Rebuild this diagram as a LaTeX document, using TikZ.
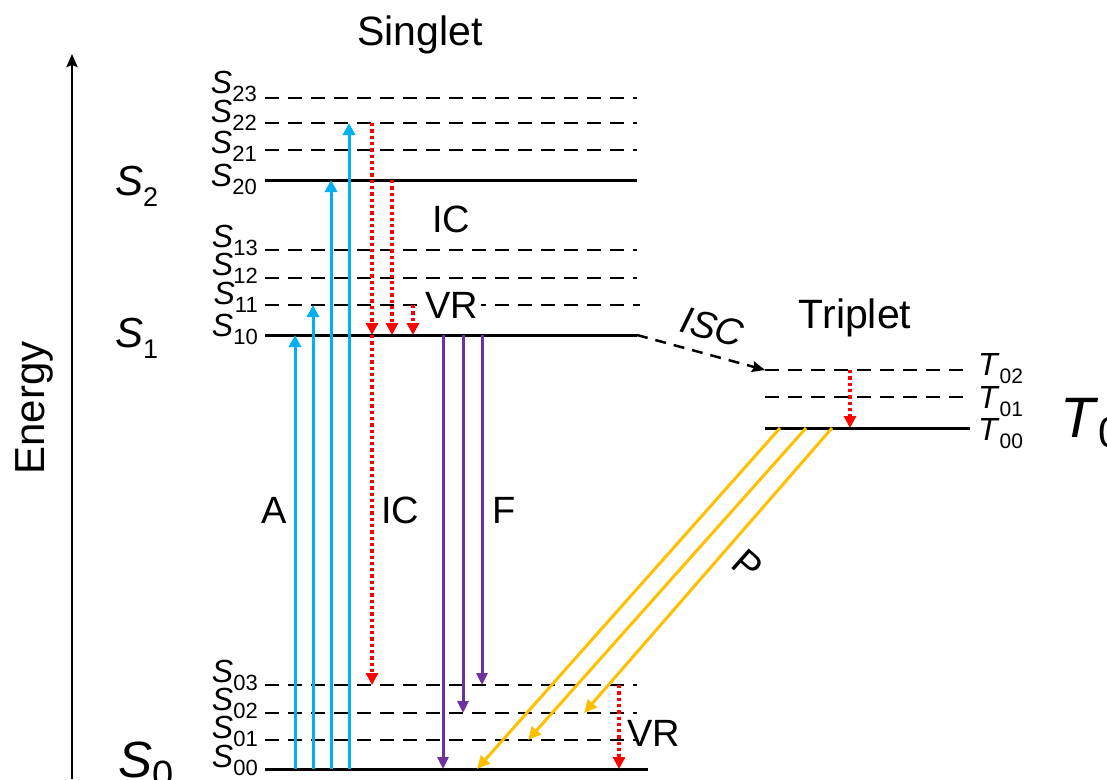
\documentclass[tikz,border=0pt]{standalone}
\usepackage{fontspec}
\setmainfont{Liberation Sans}
\usetikzlibrary{arrows.meta}
\definecolor{ablue}{HTML}{00B0F0}
\definecolor{apurple}{HTML}{7030A0}
\definecolor{aorange}{HTML}{FFC000}
\definecolor{ared}{HTML}{FF0000}
\newcommand\lvlab[3]{\textit{#1}\raisebox{-0.28em}{\fontsize{#3}{#3}\selectfont #2}}
\begin{document}
\begin{tikzpicture}[x=1pt,y=-1pt,
  solidlvl/.style={line width=3pt},
  sublvl/.style={line width=2.8pt,dash pattern=on 14pt off 9pt},
  lab/.style={font=\fontsize{32}{32}\selectfont, anchor=base east, inner sep=0pt},
  tlab/.style={font=\fontsize{32}{32}\selectfont, anchor=base west, inner sep=0pt},
  txt/.style={font=\fontsize{38}{38}\selectfont, anchor=base, inner sep=0pt},
  title/.style={font=\fontsize{41}{41}\selectfont, anchor=base, inner sep=0pt},
  exc/.style={ablue, line width=3pt, -{Triangle[width=12pt,length=12pt]}},
  fluo/.style={apurple, line width=3pt, -{Triangle[width=11pt,length=12pt]}},
  phos/.style={aorange, line width=3pt, -{Triangle[width=12pt,length=13pt]}},
  relax/.style={ared, line width=3.3pt, dash pattern=on 3.3pt off 3pt, -{Triangle[width=12pt,length=12pt]}},
]
\useasboundingbox (0,0) rectangle (1107,779);

% energy axis
\coordinate (ax0) at (72,779);
\coordinate (ax1) at (72,54);
\draw[line width=2.5pt, -{Stealth[width=11pt,length=13pt,inset=2pt]}] (ax0) -- (ax1);
\node[font=\fontsize{42}{42}\selectfont, rotate=90, inner sep=0pt] (energy) at (34,408) {Energy};

% singlet levels
\foreach \n/\y in {s23/98, s22/123, s21/150, s13/250, s12/278, s03/685, s02/713, s01/740}{
  \coordinate (\n) at (265,\y);
  \coordinate (\n r) at (637,\y);
  \draw[sublvl] (\n) -- (\n r);
}
\coordinate (s11) at (265,305); \coordinate (s11r) at (640,305);
\draw[sublvl] (s11) -- (s11r);
\foreach \n/\y in {s20/180, s10/335}{
  \coordinate (\n) at (265,\y);
  \coordinate (\n r) at (637,\y);
  \draw[solidlvl] (\n) -- (\n r);
}
\coordinate (s00) at (265,769); \coordinate (s00r) at (648,769);
\draw[solidlvl] (s00) -- (s00r);

% triplet levels
\coordinate (t02) at (765,370); \coordinate (t02r) at (970,370);
\coordinate (t01) at (765,397); \coordinate (t01r) at (970,397);
\coordinate (t00) at (765,428); \coordinate (t00r) at (970,428);
\draw[sublvl] (t02) -- (t02r);
\draw[sublvl] (t01) -- (t01r);
\draw[solidlvl] (t00) -- (t00r);

% level labels
\node[lab] (l23) at (257,93)  {\lvlab{S}{23}{22}};
\node[lab] (l22) at (257,122) {\lvlab{S}{22}{22}};
\node[lab] (l21) at (257,153) {\lvlab{S}{21}{22}};
\node[lab] (l20) at (257,186) {\lvlab{S}{20}{22}};
\node[lab] (l13) at (258,247) {\lvlab{S}{13}{22}};
\node[lab] (l12) at (258,275) {\lvlab{S}{12}{22}};
\node[lab] (l11) at (258,304) {\lvlab{S}{11}{22}};
\node[lab] (l10) at (258,336) {\lvlab{S}{10}{22}};
\node[lab] (l03) at (258,682) {\lvlab{S}{03}{22}};
\node[lab] (l02) at (258,710) {\lvlab{S}{02}{22}};
\node[lab] (l01) at (258,738) {\lvlab{S}{01}{22}};
\node[lab] (l00) at (258,767) {\lvlab{S}{00}{22}};
\node[tlab] (lt02) at (978,375) {\lvlab{T}{02}{21}};
\node[tlab] (lt01) at (978,408) {\lvlab{T}{01}{21}};
\node[tlab] (lt00) at (978,440) {\lvlab{T}{00}{21}};

% state labels
\node[font=\fontsize{42}{42}\selectfont, anchor=base west, inner sep=0pt] (S2) at (115,195) {\lvlab{S}{2}{27}};
\node[font=\fontsize{42}{42}\selectfont, anchor=base west, inner sep=0pt] (S1) at (115,347) {\lvlab{S}{1}{27}};
\node[font=\fontsize{51}{51}\selectfont, anchor=base west, inner sep=0pt] (S0) at (118,777) {\textit{S}\raisebox{-0.2em}{\fontsize{38}{38}\selectfont 0}};
\node[font=\fontsize{57}{57}\selectfont, anchor=base west, inner sep=0pt] (T0) at (1060,437) {\textit{T}\raisebox{-0.18em}{\fontsize{43}{43}\selectfont 0}};

% titles
\node[title] (singlet) at (420,45) {Singlet};
\node[title] (triplet) at (855,328) {Triplet};

% absorption
\draw[exc] (295,0 |- s00) -- (295,0 |- s10);
\draw[exc] (313,0 |- s00) -- (313,0 |- s11);
\draw[exc] (331,0 |- s00) -- (331,0 |- s20);
\draw[exc] (349,0 |- s00) -- (349,0 |- s22);

% internal conversion / vibrational relaxation
\draw[relax] (372,0 |- s22) -- (372,0 |- s10);
\draw[relax] (392,0 |- s20) -- (392,0 |- s10);
\draw[relax] (413,0 |- s11) -- (413,0 |- s10);
\draw[relax] (372,0 |- s10) -- (372,0 |- s03);
\draw[relax] (619,0 |- s03) -- (619,0 |- s00);
\draw[relax] (850,0 |- t02) -- (850,0 |- t00);

% fluorescence
\draw[fluo] (443,0 |- s10) -- (443,0 |- s00);
\draw[fluo] (463,0 |- s10) -- (463,0 |- s02);
\draw[fluo] (482,0 |- s10) -- (482,0 |- s03);

% phosphorescence
\coordinate (p1a) at (780,428); \coordinate (p1b) at (477,769);
\coordinate (p2a) at (806,428); \coordinate (p2b) at (528,740);
\coordinate (p3a) at (832,428); \coordinate (p3b) at (584,713);
\draw[phos] (p1a) -- (p1b);
\draw[phos] (p2a) -- (p2b);
\draw[phos] (p3a) -- (p3b);

% intersystem crossing
\draw[line width=2.5pt, dash pattern=on 11pt off 8pt, -{Stealth[width=11pt,length=13pt,inset=2pt]}] (s10r) -- (t02);

% process labels
\node[txt] (ic1) at (451,232) {IC};
\node[txt, fill=white, inner xsep=3pt, inner ysep=1pt] (vr1) at (452,318) {VR};
\node[txt] (absA) at (274,523) {A};
\node[txt] (ic2) at (400,523) {IC};
\node[txt] (fl) at (504,523) {F};
\node[txt] (vr2) at (654,746) {VR};
\node[font=\fontsize{38}{38}\selectfont\itshape, rotate=-15, inner sep=0pt] (isc) at (712,327) {ISC};
\node[font=\fontsize{38}{38}\selectfont, rotate=-41.5, inner sep=0pt] (plab) at (748,565) {P};
\end{tikzpicture}
\end{document}
